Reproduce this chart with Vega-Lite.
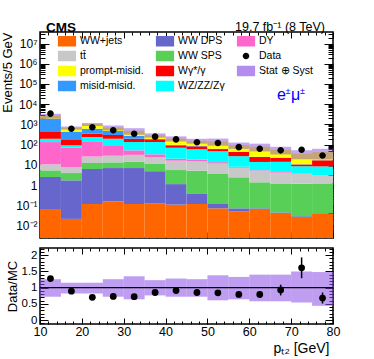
{
  "$schema": "https://vega.github.io/schema/vega-lite/v6.json",
  "autosize": {"type": "pad"},
  "padding": {"left": 0, "top": 19, "right": 5, "bottom": 2},
  "spacing": 6,
  "config": {
    "font": "Liberation Sans",
    "view": {"stroke": "black", "strokeWidth": 1.5},
    "axis": {"domain": false, "grid": false, "tickColor": "black", "labelColor": "black", "titleColor": "black", "labelFont": "Liberation Sans", "titleFont": "Liberation Sans", "titleFontWeight": "normal", "tickWidth": 1}
  },
  "datasets": {
    "mc": [
      {"bin_start": 10, "bin_end": 15, "wwjets": 0.065, "dps": 2.43, "sps": 2.8, "ttbar": 5.2, "dy": 123, "wz": 61, "wg": 225, "mm": 1480, "pm": 750},
      {"bin_start": 15, "bin_end": 20, "wwjets": 0.021, "dps": 1.68, "sps": 2.2, "ttbar": 3.9, "dy": 62, "wz": 22, "wg": 91, "mm": 237, "pm": 260},
      {"bin_start": 20, "bin_end": 25, "wwjets": 0.115, "dps": 6.1, "sps": 6.1, "ttbar": 13.7, "dy": 119, "wz": 93, "wg": 108, "mm": 268, "pm": 416},
      {"bin_start": 25, "bin_end": 30, "wwjets": 0.155, "dps": 6.75, "sps": 6.3, "ttbar": 14.8, "dy": 57, "wz": 110, "wg": 104, "mm": 171, "pm": 230},
      {"bin_start": 30, "bin_end": 35, "wwjets": 0.115, "dps": 6.8, "sps": 7.1, "ttbar": 17, "dy": 21, "wz": 82, "wg": 61, "mm": 75, "pm": 210},
      {"bin_start": 35, "bin_end": 40, "wwjets": 0.12, "dps": 4.7, "sps": 6.2, "ttbar": 13, "dy": 9, "wz": 101, "wg": 49, "mm": 8, "pm": 101},
      {"bin_start": 40, "bin_end": 45, "wwjets": 0.107, "dps": 1.0, "sps": 4.4, "ttbar": 10.5, "dy": 4, "wz": 50, "wg": 22, "mm": 5, "pm": 102},
      {"bin_start": 45, "bin_end": 50, "wwjets": 0.115, "dps": 0.245, "sps": 4.7, "ttbar": 10, "dy": 3, "wz": 40.5, "wg": 23.5, "mm": 3, "pm": 69},
      {"bin_start": 50, "bin_end": 55, "wwjets": 0.07, "dps": 0.045, "sps": 3.4, "ttbar": 8, "dy": 2, "wz": 33, "wg": 13.5, "mm": 2, "pm": 82},
      {"bin_start": 55, "bin_end": 60, "wwjets": 0.048, "dps": 0.022, "sps": 2.33, "ttbar": 4.8, "dy": 0.8, "wz": 18.7, "wg": 16.5, "mm": 1, "pm": 51},
      {"bin_start": 60, "bin_end": 65, "wwjets": 0.065, "dps": 0.005, "sps": 1.29, "ttbar": 3.75, "dy": 0.3, "wz": 8.4, "wg": 10.5, "mm": 0.5, "pm": 54},
      {"bin_start": 65, "bin_end": 70, "wwjets": 0.041, "dps": 0.003, "sps": 1.08, "ttbar": 3.0, "dy": 0.3, "wz": 9.6, "wg": 8, "mm": 0.5, "pm": 33.5},
      {"bin_start": 70, "bin_end": 75, "wwjets": 0.026, "dps": 0.002, "sps": 1.12, "ttbar": 2.35, "dy": 0.1, "wz": 5.0, "wg": 1.9, "mm": 0.3, "pm": 24.2},
      {"bin_start": 75, "bin_end": 80, "wwjets": 0.037, "dps": 0.003, "sps": 1.16, "ttbar": 1.75, "dy": 0.1, "wz": 5.3, "wg": 8.3, "mm": 0.3, "pm": 25}
    ],
    "tot": [
      {"bin_start": 10, "bin_end": 15, "center": 12.5, "data": 3400, "unc_lo": 1908, "unc_hi": 3339, "ratio": 1.28, "r_lo": 1.25, "r_hi": 1.31, "band_lo": 0.72, "band_hi": 1.26},
      {"bin_start": 15, "bin_end": 20, "center": 17.5, "data": 605, "unc_lo": 558, "unc_hi": 782, "ratio": 0.89, "r_lo": 0.86, "r_hi": 0.92, "band_lo": 0.82, "band_hi": 1.15},
      {"bin_start": 20, "bin_end": 25, "center": 22.5, "data": 721, "unc_lo": 845, "unc_hi": 1185, "ratio": 0.70, "r_lo": 0.67, "r_hi": 0.73, "band_lo": 0.82, "band_hi": 1.15},
      {"bin_start": 25, "bin_end": 30, "center": 27.5, "data": 511, "unc_lo": 504, "unc_hi": 882, "ratio": 0.73, "r_lo": 0.70, "r_hi": 0.76, "band_lo": 0.72, "band_hi": 1.26},
      {"bin_start": 30, "bin_end": 35, "center": 32.5, "data": 346, "unc_lo": 307, "unc_hi": 648, "ratio": 0.72, "r_lo": 0.68, "r_hi": 0.76, "band_lo": 0.64, "band_hi": 1.35},
      {"bin_start": 35, "bin_end": 40, "center": 37.5, "data": 248, "unc_lo": 222, "unc_hi": 359, "ratio": 0.85, "r_lo": 0.81, "r_hi": 0.89, "band_lo": 0.76, "band_hi": 1.23},
      {"bin_start": 40, "bin_end": 45, "center": 42.5, "data": 181, "unc_lo": 143, "unc_hi": 255, "ratio": 0.91, "r_lo": 0.86, "r_hi": 0.96, "band_lo": 0.72, "band_hi": 1.28},
      {"bin_start": 45, "bin_end": 50, "center": 47.5, "data": 131, "unc_lo": 111, "unc_hi": 194, "ratio": 0.85, "r_lo": 0.79, "r_hi": 0.91, "band_lo": 0.72, "band_hi": 1.26},
      {"bin_start": 50, "bin_end": 55, "center": 52.5, "data": 121, "unc_lo": 88, "unc_hi": 199, "ratio": 0.84, "r_lo": 0.77, "r_hi": 0.91, "band_lo": 0.61, "band_hi": 1.38},
      {"bin_start": 55, "bin_end": 60, "center": 57.5, "data": 75, "unc_lo": 61, "unc_hi": 126, "ratio": 0.79, "r_lo": 0.70, "r_hi": 0.88, "band_lo": 0.64, "band_hi": 1.33},
      {"bin_start": 60, "bin_end": 65, "center": 62.5, "data": 62, "unc_lo": 46, "unc_hi": 111, "ratio": 0.79, "r_lo": 0.69, "r_hi": 0.89, "band_lo": 0.58, "band_hi": 1.40},
      {"bin_start": 65, "bin_end": 70, "center": 67.5, "data": 52, "unc_lo": 32.5, "unc_hi": 78, "ratio": 0.93, "r_lo": 0.76, "r_hi": 1.09, "band_lo": 0.58, "band_hi": 1.40},
      {"bin_start": 70, "bin_end": 75, "center": 72.5, "data": 56, "unc_lo": 18.9, "unc_hi": 52.5, "ratio": 1.61, "r_lo": 1.29, "r_hi": 1.93, "band_lo": 0.54, "band_hi": 1.50},
      {"bin_start": 75, "bin_end": 80, "center": 77.5, "data": 28.6, "unc_lo": 18.5, "unc_hi": 62, "ratio": 0.68, "r_lo": 0.51, "r_hi": 0.85, "band_lo": 0.44, "band_hi": 1.48}
    ]
  },
  "resolve": {"scale": {"color": "independent", "shape": "independent"}, "legend": {"color": "independent", "shape": "independent"}},
  "vconcat": [
    {
      "width": 293,
      "height": 206,
      "resolve": {"axis": {"x": "independent", "y": "independent"}},
      "layer": [
        {
          "data": {"name": "mc"},
          "transform": [
            {"fold": ["wwjets", "dps", "sps", "ttbar", "dy", "wz", "wg", "mm", "pm"], "as": ["process", "value"]},
            {"stack": "value", "groupby": ["bin_start"], "as": ["lo", "hi"]}
          ],
          "mark": {"type": "rect"},
          "encoding": {
            "x": {"field": "bin_start", "type": "quantitative", "scale": {"domain": [10, 80], "nice": false, "zero": false},
              "axis": {"orient": "bottom", "values": [10, 20, 30, 40, 50, 60, 70, 80], "labels": false, "tickSize": -6, "title": null}},
            "x2": {"field": "bin_end"},
            "y": {"field": "hi", "type": "quantitative", "scale": {"type": "log", "domain": [0.00238, 37500000], "nice": false, "clamp": true},
              "axis": {"orient": "left", "values": [0.01, 0.1, 1, 10, 100, 1000, 10000, 100000, 1000000, 10000000], "tickSize": -9, "labelPadding": 12, "labelFontSize": 12,
                "labelExpr": "datum.value == 1 ? '1' : datum.value == 10 ? '10' : datum.value == 0.01 ? '10⁻²' : datum.value == 0.1 ? '10⁻¹' : datum.value == 100 ? '10²' : datum.value == 1000 ? '10³' : datum.value == 10000 ? '10⁴' : datum.value == 100000 ? '10⁵' : datum.value == 1000000 ? '10⁶' : '10⁷'",
                "title": "Events/5 GeV", "titleAnchor": "end", "titleFontSize": 13, "titlePadding": 1}},
            "y2": {"field": "lo"},
            "color": {"field": "process", "type": "nominal",
              "scale": {"domain": ["wwjets", "ttbar", "pm", "mm", "dps", "sps", "wg", "wz", "dy", "data", "stat"],
                "range": ["#ff6600", "#c8c8c8", "#ffff00", "#3399ff", "#6666cc", "#58d058", "#ff0000", "#00ffff", "#ff66cc", "#000000", "#b48cf0"]},
              "legend": {"orient": "none", "legendX": 20, "legendY": 2, "columns": 3, "title": null, "labelFontSize": 10.5, "labelFont": "Liberation Sans", "labelColor": "black", "symbolSize": 196, "symbolStrokeWidth": 0, "symbolOpacity": 1, "rowPadding": 2, "columnPadding": 11, "labelOffset": 6, "padding": 0,
                "labelExpr": "datum.label == 'wwjets' ? 'WW+jets' : datum.label == 'dps' ? 'WW DPS' : datum.label == 'dy' ? 'DY' : datum.label == 'ttbar' ? 'tt̄' : datum.label == 'sps' ? 'WW SPS' : datum.label == 'data' ? 'Data' : datum.label == 'pm' ? 'prompt-misid.' : datum.label == 'wg' ? 'Wγ*/γ' : datum.label == 'stat' ? 'Stat ⊕ Syst' : datum.label == 'mm' ? 'misid-misid.' : 'WZ/ZZ/Zγ'"}}
          }
        },
        {
          "data": {"name": "tot"},
          "mark": {"type": "rect", "color": "#8a4ee8", "opacity": 0.5},
          "encoding": {
            "x": {"field": "bin_start", "type": "quantitative", "axis": {"orient": "top", "values": [10, 20, 30, 40, 50, 60, 70, 80], "labels": false, "tickSize": -6, "title": null}},
            "x2": {"field": "bin_end"},
            "y": {"field": "unc_lo", "type": "quantitative", "axis": {"orient": "right", "values": [0.01, 0.1, 1, 10, 100, 1000, 10000, 100000, 1000000, 10000000], "labels": false, "tickSize": -9, "title": null}},
            "y2": {"field": "unc_hi"}
          }
        },
        {
          "data": {"name": "tot"},
          "mark": {"type": "point", "filled": true, "size": 196, "opacity": 1},
          "encoding": {
            "x": {"field": "center", "type": "quantitative", "axis": {"orient": "bottom", "values": [12, 14, 16, 18, 22, 24, 26, 28, 32, 34, 36, 38, 42, 44, 46, 48, 52, 54, 56, 58, 62, 64, 66, 68, 72, 74, 76, 78], "labels": false, "tickSize": -3, "title": null}},
            "y": {"field": "data", "type": "quantitative", "axis": {"orient": "left", "values": [0.003, 0.004, 0.005, 0.006, 0.007, 0.008, 0.009, 0.02, 0.03, 0.04, 0.05, 0.06, 0.07, 0.08, 0.09, 0.2, 0.3, 0.4, 0.5, 0.6, 0.7, 0.8, 0.9, 2, 3, 4, 5, 6, 7, 8, 9, 20, 30, 40, 50, 60, 70, 80, 90, 200, 300, 400, 500, 600, 700, 800, 900, 2000, 3000, 4000, 5000, 6000, 7000, 8000, 9000, 20000, 30000, 40000, 50000, 60000, 70000, 80000, 90000, 200000, 300000, 400000, 500000, 600000, 700000, 800000, 900000, 2000000, 3000000, 4000000, 5000000, 6000000, 7000000, 8000000, 9000000, 20000000, 30000000], "labels": false, "tickSize": -5, "title": null}},
            "color": {"datum": "data", "type": "nominal"},
            "shape": {"datum": "data", "type": "nominal",
              "scale": {"domain": ["wwjets", "ttbar", "pm", "mm", "dps", "sps", "wg", "wz", "dy", "data", "stat"],
                "range": ["M-1.3,-0.75H1.3V0.75H-1.3Z", "M-1.3,-0.75H1.3V0.75H-1.3Z", "M-1.3,-0.75H1.3V0.75H-1.3Z", "M-1.3,-0.75H1.3V0.75H-1.3Z", "M-1.3,-0.75H1.3V0.75H-1.3Z", "M-1.3,-0.75H1.3V0.75H-1.3Z", "M-1.3,-0.75H1.3V0.75H-1.3Z", "M-1.3,-0.75H1.3V0.75H-1.3Z", "M-1.3,-0.75H1.3V0.75H-1.3Z", "M-0.47,0A0.47,0.47,0,1,0,0.47,0A0.47,0.47,0,1,0,-0.47,0Z", "M-1.3,-0.75H1.3V0.75H-1.3Z"]}}
          }
        },
        {
          "data": {"name": "tot"},
          "mark": {"type": "point", "opacity": 0},
          "encoding": {
            "x": {"field": "center", "type": "quantitative", "axis": {"orient": "top", "values": [12, 14, 16, 18, 22, 24, 26, 28, 32, 34, 36, 38, 42, 44, 46, 48, 52, 54, 56, 58, 62, 64, 66, 68, 72, 74, 76, 78], "labels": false, "tickSize": -3, "title": null}},
            "y": {"field": "data", "type": "quantitative", "axis": {"orient": "right", "values": [0.003, 0.004, 0.005, 0.006, 0.007, 0.008, 0.009, 0.02, 0.03, 0.04, 0.05, 0.06, 0.07, 0.08, 0.09, 0.2, 0.3, 0.4, 0.5, 0.6, 0.7, 0.8, 0.9, 2, 3, 4, 5, 6, 7, 8, 9, 20, 30, 40, 50, 60, 70, 80, 90, 200, 300, 400, 500, 600, 700, 800, 900, 2000, 3000, 4000, 5000, 6000, 7000, 8000, 9000, 20000, 30000, 40000, 50000, 60000, 70000, 80000, 90000, 200000, 300000, 400000, 500000, 600000, 700000, 800000, 900000, 2000000, 3000000, 4000000, 5000000, 6000000, 7000000, 8000000, 9000000, 20000000, 30000000], "labels": false, "tickSize": -5, "title": null}}
          }
        },
        {
          "data": {"values": [{}]},
          "mark": {"type": "text", "text": "CMS", "fontWeight": "bold", "fontSize": 13.5, "align": "left", "baseline": "alphabetic", "dx": 6, "dy": -0.5, "color": "black"},
          "encoding": {"x": {"datum": 10, "type": "quantitative", "axis": null}, "y": {"datum": 37500000, "type": "quantitative", "axis": null}}
        },
        {
          "data": {"values": [{}]},
          "mark": {"type": "text", "text": "19.7 fb⁻¹ (8 TeV)", "fontSize": 12.5, "align": "right", "baseline": "alphabetic", "dx": -8, "dy": -1.5, "color": "black"},
          "encoding": {"x": {"datum": 80, "type": "quantitative", "axis": null}, "y": {"datum": 37500000, "type": "quantitative", "axis": null}}
        },
        {
          "data": {"values": [{}]},
          "mark": {"type": "text", "text": "e", "fontSize": 16, "align": "left", "baseline": "alphabetic", "color": "#0000ff"},
          "encoding": {"x": {"datum": 66.6, "type": "quantitative", "axis": null}, "y": {"datum": 16000, "type": "quantitative", "axis": null}}
        },
        {
          "data": {"values": [{}]},
          "mark": {"type": "text", "text": "±", "fontSize": 9, "align": "left", "baseline": "alphabetic", "dx": 8.5, "dy": -6, "color": "#0000ff"},
          "encoding": {"x": {"datum": 66.6, "type": "quantitative", "axis": null}, "y": {"datum": 16000, "type": "quantitative", "axis": null}}
        },
        {
          "data": {"values": [{}]},
          "mark": {"type": "text", "text": "μ", "fontSize": 16, "align": "left", "baseline": "alphabetic", "dx": 14, "color": "#0000ff"},
          "encoding": {"x": {"datum": 66.6, "type": "quantitative", "axis": null}, "y": {"datum": 16000, "type": "quantitative", "axis": null}}
        },
        {
          "data": {"values": [{}]},
          "mark": {"type": "text", "text": "±", "fontSize": 9, "align": "left", "baseline": "alphabetic", "dx": 23, "dy": -6, "color": "#0000ff"},
          "encoding": {"x": {"datum": 66.6, "type": "quantitative", "axis": null}, "y": {"datum": 16000, "type": "quantitative", "axis": null}}
        }
      ]
    },
    {
      "width": 293,
      "height": 76,
      "resolve": {"axis": {"x": "independent", "y": "independent"}},
      "layer": [
        {
          "data": {"name": "tot"},
          "mark": {"type": "rect", "color": "#8a4ee8", "opacity": 0.55},
          "encoding": {
            "x": {"field": "bin_start", "type": "quantitative", "scale": {"domain": [10, 80], "nice": false, "zero": false},
              "axis": {"orient": "bottom", "values": [10, 20, 30, 40, 50, 60, 70, 80], "tickSize": -6, "labelPadding": 7.5, "labelFontSize": 12.5, "labelFlush": false,
                "title": "pₜ₂ [GeV]", "titleFontSize": 14, "titleX": 289, "titleY": 28, "titleAlign": "right", "titleBaseline": "alphabetic"}},
            "x2": {"field": "bin_end"},
            "y": {"field": "band_lo", "type": "quantitative", "scale": {"domain": [-0.12, 2.22], "nice": false, "zero": false},
              "axis": {"orient": "left", "values": [0, 0.5, 1, 1.5, 2], "tickSize": -8, "labelPadding": 11, "labelFontSize": 11.5, "format": "~g",
                "title": "Data/MC", "titleFontSize": 13, "titlePadding": 1.5}},
            "y2": {"field": "band_hi"}
          }
        },
        {
          "data": {"values": [{}]},
          "mark": {"type": "rule", "color": "black", "strokeWidth": 1.2},
          "encoding": {"y": {"datum": 1, "type": "quantitative", "axis": null}}
        },
        {
          "data": {"name": "tot"},
          "mark": {"type": "rule", "color": "black", "strokeWidth": 1.5},
          "encoding": {
            "x": {"field": "center", "type": "quantitative", "axis": {"orient": "bottom", "values": [12, 14, 16, 18, 22, 24, 26, 28, 32, 34, 36, 38, 42, 44, 46, 48, 52, 54, 56, 58, 62, 64, 66, 68, 72, 74, 76, 78], "labels": false, "tickSize": -3, "title": null}},
            "y": {"field": "r_lo", "type": "quantitative", "axis": {"orient": "left", "values": [-0.1, 0.1, 0.2, 0.3, 0.4, 0.6, 0.7, 0.8, 0.9, 1.1, 1.2, 1.3, 1.4, 1.6, 1.7, 1.8, 1.9, 2.1, 2.2], "labels": false, "tickSize": -4, "title": null}},
            "y2": {"field": "r_hi"}
          }
        },
        {
          "data": {"name": "tot"},
          "mark": {"type": "circle", "color": "black", "size": 46, "opacity": 1},
          "encoding": {
            "x": {"field": "center", "type": "quantitative", "axis": {"orient": "top", "values": [10, 20, 30, 40, 50, 60, 70, 80], "labels": false, "tickSize": -6, "title": null}},
            "y": {"field": "ratio", "type": "quantitative", "axis": {"orient": "right", "values": [0, 0.5, 1, 1.5, 2], "labels": false, "tickSize": -8, "title": null}}
          }
        },
        {
          "data": {"name": "tot"},
          "mark": {"type": "point", "opacity": 0},
          "encoding": {
            "x": {"field": "center", "type": "quantitative", "axis": {"orient": "top", "values": [12, 14, 16, 18, 22, 24, 26, 28, 32, 34, 36, 38, 42, 44, 46, 48, 52, 54, 56, 58, 62, 64, 66, 68, 72, 74, 76, 78], "labels": false, "tickSize": -3, "title": null}},
            "y": {"field": "ratio", "type": "quantitative", "axis": {"orient": "right", "values": [-0.1, 0.1, 0.2, 0.3, 0.4, 0.6, 0.7, 0.8, 0.9, 1.1, 1.2, 1.3, 1.4, 1.6, 1.7, 1.8, 1.9, 2.1, 2.2], "labels": false, "tickSize": -4, "title": null}}
          }
        }
      ]
    }
  ]
}
